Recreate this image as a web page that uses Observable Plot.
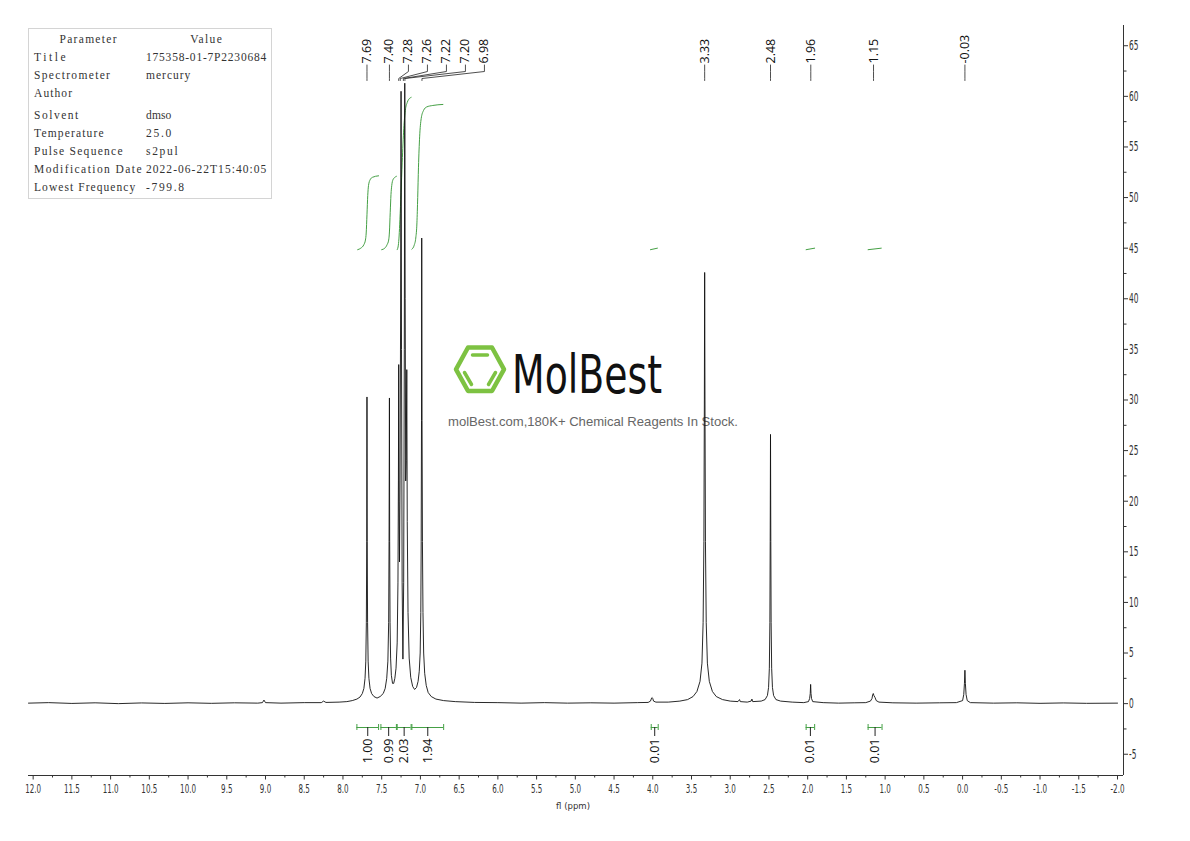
<!DOCTYPE html>
<html><head><meta charset="utf-8">
<script src="https://cdn.jsdelivr.net/npm/d3@7"></script>
<script src="https://cdn.jsdelivr.net/npm/@observablehq/plot@0.6"></script>
<style>
html,body{margin:0;padding:0;background:#fff;}
#wrap{position:relative;width:1190px;height:841px;overflow:hidden;background:#fff;}
#wm,#chart,#params{position:absolute;left:0;top:0;}
</style></head><body>
<div id="wrap">
<svg id="wm" width="1190" height="841">
  <g fill="none" stroke="#7dc242" stroke-linejoin="round" stroke-linecap="round">
    <polygon points="456,369.3 468,347.5 492,347.5 504,369.3 492,391 468,391" stroke-width="4.5"/>
    <line x1="472.5" y1="355" x2="487.5" y2="355" stroke-width="3.5"/>
    <line x1="464.5" y1="372.5" x2="471.5" y2="384.5" stroke-width="3.5"/>
    <line x1="495.5" y1="372.5" x2="488.5" y2="384.5" stroke-width="3.5"/>
  </g>
  <text x="512" y="393" font-family="'DejaVu Sans Condensed','DejaVu Sans',sans-serif" font-size="53" fill="#111" textLength="150" lengthAdjust="spacingAndGlyphs">MolBest</text>
  <text x="448" y="425.5" font-family="'Liberation Sans',Arial,sans-serif" font-size="13" fill="#666" textLength="290" lengthAdjust="spacingAndGlyphs">molBest.com,180K+ Chemical Reagents In Stock.</text>
</svg>
<div id="chart"></div>
<svg id="params" width="300" height="210"></svg>
</div>
<script>
// ---------- data ----------
const paramHeader = ["Parameter", "Value"];
const paramNames = ["Title","Spectrometer","Author","Solvent","Temperature","Pulse Sequence","Modification Date","Lowest Frequency"];
const paramValues = ["175358-01-7P2230684","mercury","","dmso","25.0","s2pul","2022-06-22T15:40:05","-799.8"];

const xMajorTicks = d3.range(-2.0, 12.001, 0.5);
const xMinorTicks = d3.range(-1.75, 12.0, 0.5);
const yMajorTicks = d3.range(-5, 65.001, 5);
const yMinorTicks = d3.range(-2.5, 65, 5);

const peakLabels = [7.69, 7.40, 7.28, 7.26, 7.22, 7.20, 6.98, 3.33, 2.48, 1.96, 1.15, -0.03];

const intStart  = [7.82, 7.51, 7.30, 7.11, 4.02, 2.02, 1.22];
const intEnd    = [7.54, 7.31, 7.12, 6.70, 3.93, 1.91, 1.04];
const intValues = [1.00, 0.99, 2.03, 1.94, 0.01, 0.01, 0.01];

// spectrum: [ppm, intensity]
const spectrum = [
[12.06,0.05],[11.8,0.1],[11.5,0.02],[11.2,0.08],[10.9,0.0],[10.6,0.07],[10.3,0.02],[10.0,0.08],[9.7,0.03],[9.4,0.08],[9.1,0.05],[9.04,0.1],[9.02,0.35],[9.0,0.1],[8.8,0.05],[8.5,0.1],[8.28,0.1],[8.25,0.25],[8.22,0.12],[8.05,0.15],[7.95,0.2],[7.88,0.3],
[7.82,0.45],[7.78,0.65],[7.75,1.0],[7.73,1.5],[7.715,2.5],[7.705,4.2],[7.698,8],[7.693,16],[7.69,30.3],[7.687,16],[7.682,8],[7.675,4.2],[7.665,2.5],[7.65,1.5],[7.63,1.0],[7.6,0.7],[7.56,0.55],
[7.52,0.7],[7.48,1.0],[7.455,1.5],[7.435,2.5],[7.42,4.2],[7.41,8],[7.405,16],[7.40,30.2],[7.397,16],[7.392,8],[7.385,4.5],[7.375,2.8],[7.36,2.0],[7.345,2.0],
[7.33,2.5],[7.315,3.5],[7.30,6],[7.29,12],[7.284,22],[7.28,33.5],[7.276,20],[7.27,14],[7.263,22],[7.256,38],[7.25,60.5],[7.244,35],[7.236,12],[7.226,4.4],[7.216,12],[7.208,35],[7.202,61.3],[7.197,40],[7.19,22],[7.183,24],[7.176,33],[7.17,18],[7.16,9],[7.145,4.5],[7.125,2.6],[7.1,1.7],[7.075,1.4],[7.05,1.6],
[7.03,2.2],[7.015,3.2],[7.003,5],[6.995,9],[6.99,16],[6.986,28],[6.983,46],[6.979,28],[6.974,16],[6.967,9],[6.958,5],[6.945,3],[6.925,1.8],[6.9,1.1],[6.86,0.7],[6.8,0.45],[6.7,0.3],[6.55,0.2],[6.3,0.12],
[6.0,0.1],[5.7,0.05],[5.4,0.1],[5.1,0.05],[4.8,0.08],[4.5,0.05],[4.2,0.1],[4.06,0.12],[4.03,0.25],[4.015,0.55],[4.008,0.6],[4.0,0.5],[3.99,0.25],[3.96,0.15],[3.8,0.15],[3.65,0.25],[3.55,0.4],[3.48,0.7],[3.43,1.2],[3.39,2.2],[3.365,4],[3.35,8],[3.34,16],[3.334,30],[3.33,42.6],[3.326,30],[3.32,16],[3.31,8],[3.295,4],[3.27,2.2],[3.23,1.2],[3.18,0.7],[3.1,0.4],[3.0,0.25],[2.9,0.2],[2.88,0.4],[2.87,0.2],[2.78,0.15],[2.73,0.25],[2.72,0.45],[2.71,0.2],[2.6,0.25],[2.55,0.4],[2.52,0.8],[2.505,1.6],[2.495,3.5],[2.488,8],[2.484,16],[2.48,26.6],[2.476,16],[2.472,8],[2.465,3.5],[2.455,1.6],[2.44,0.8],[2.41,0.4],[2.35,0.25],[2.2,0.15],[2.05,0.1],
[1.99,0.2],[1.975,0.5],[1.967,1.0],[1.962,1.9],[1.957,1.0],[1.95,0.5],[1.935,0.2],[1.8,0.1],[1.6,0.05],[1.4,0.08],[1.25,0.1],
[1.19,0.25],[1.17,0.5],[1.16,0.9],[1.153,1.0],[1.145,0.8],[1.13,0.6],[1.115,0.3],[1.08,0.15],[0.9,0.08],[0.6,0.05],[0.3,0.08],[0.08,0.1],
[0.0,0.3],[-0.015,0.9],[-0.024,2.0],[-0.03,3.3],[-0.036,2.0],[-0.045,0.9],[-0.06,0.3],[-0.1,0.1],[-0.4,0.05],[-0.7,0.08],[-1.0,0.03],[-1.3,0.07],[-1.6,0.03],[-2.0,0.05]
];

// integral curves: [region, ppm, value]
const integralCurves = [
[0,7.81,44.85],[0,7.77,45.0],[0,7.73,45.35],[0,7.71,45.8],[0,7.70,46.5],[0,7.69,48.3],[0,7.68,50.2],[0,7.67,51.2],[0,7.65,51.75],[0,7.62,52.0],[0,7.54,52.15],
[1,7.50,44.85],[1,7.46,45.0],[1,7.43,45.35],[1,7.41,45.8],[1,7.40,46.6],[1,7.39,48.5],[1,7.38,50.3],[1,7.37,51.2],[1,7.355,51.75],[1,7.33,52.0],[1,7.31,52.1],
[2,7.30,44.85],[2,7.285,45.3],[2,7.275,46.2],[2,7.265,47.8],[2,7.25,50.5],[2,7.235,53.5],[2,7.215,56.8],[2,7.195,58.6],[2,7.17,59.4],[2,7.14,59.8],[2,7.12,59.9],
[3,7.11,44.9],[3,7.08,45.3],[3,7.06,46.0],[3,7.045,47.5],[3,7.035,50],[3,7.025,53],[3,7.01,56],[3,6.99,57.8],[3,6.96,58.6],[3,6.92,58.95],[3,6.84,59.1],[3,6.71,59.2],
[4,4.03,44.85],[4,3.94,45.0],
[5,2.02,44.85],[5,1.91,45.0],
[6,1.22,44.85],[6,1.05,45.0]
];

// ---------- layout ----------
const W = 1190, H = 841, mL = 28, mR = 67, mT = 25, mB = 66, insR = 6;
const xDomain = [12.06, -2.0];
const yDomain = [-7.1, 67.0];
const yBottomPx = H - mB, yTopPx = mT;
const yAt = px => yDomain[0] + (yBottomPx - px) * (yDomain[1] - yDomain[0]) / (yBottomPx - yTopPx);
const pxPerPpm = (W - mR - insR - mL) / (xDomain[0] - xDomain[1]);
const green = "#45a045";
const tickFont = "'DejaVu Sans',sans-serif";
const labelFont = "'Open Sans','Noto Sans',sans-serif";

// parameter table (SVG, fixed-pitch serif look)
(function drawTable() {
  const svg = d3.select("#params");
  const pitch = 6.33, fs = 11.5;
  svg.append("rect").attr("x", 28.5).attr("y", 28.5).attr("width", 243).attr("height", 170)
    .attr("fill", "none").attr("stroke", "#d4d4d4");
  const rowCenters = [39, 57, 75, 93, 115, 133, 151, 169, 187];
  const txt = (s, x, c, anchor) => {
    if (!s) return;
    svg.append("text").attr("x", x).attr("y", c + 4).attr("text-anchor", anchor)
      .attr("font-family", "'Liberation Serif','DejaVu Serif',serif").attr("font-size", fs)
      .attr("fill", "#333").attr("textLength", s.length * pitch).attr("lengthAdjust", "spacing").text(s);
  };
  txt(paramHeader[0], 88, rowCenters[0], "middle");
  txt(paramHeader[1], 206, rowCenters[0], "middle");
  paramNames.forEach((n, i) => { txt(n, 34, rowCenters[i+1], "start"); txt(paramValues[i], 146, rowCenters[i+1], "start"); });
})();

// peak label spreading (greedy, in ppm)
const gapPpm = 19 / pxPerPpm;
let prev = Infinity;
const labelPos = peakLabels.map(p => { const v = Math.min(p, prev - gapPpm); prev = v; return v; });
const labelData = peakLabels.map((p, i) => ({peak: p, pos: labelPos[i], text: p.toFixed(2)}));
const leaders = labelData.flatMap((d, i) => [
  {i, x: d.pos, y: yAt(64.5)},
  {i, x: d.pos, y: yAt(71)},
  {i, x: d.peak, y: yAt(78)},
  {i, x: d.peak, y: yAt(80)}
]);

const regions = intStart.map((s, i) => ({s, e: intEnd[i], v: intValues[i], m: (s + intEnd[i]) / 2}));
const bounds = regions.flatMap(r => [r.s, r.e]);

const specData = spectrum.map(([x, y]) => ({x, y}));
const intData = integralCurves.map(([r, x, y]) => ({r, x, y}));

const chart = Plot.plot({
  width: W, height: H,
  marginLeft: mL, marginRight: mR, marginTop: mT, marginBottom: mB,
  insetRight: insR,
  x: {domain: xDomain, axis: null},
  y: {domain: yDomain, axis: null},
  style: {background: "transparent", overflow: "visible", fontFamily: tickFont},
  marks: [
    Plot.ruleY([yDomain[0]], {stroke: "#333", strokeWidth: 1}),
    Plot.ruleX([xDomain[1]], {dx: insR, stroke: "#333", strokeWidth: 1}),
    Plot.axisX(xMajorTicks, {anchor: "bottom", tickSize: 4.5, tickPadding: 4, tickFormat: d => d.toFixed(1), fontSize: 13, label: null, stroke: "#333", fill: "#333"}),
    Plot.axisX(xMinorTicks, {anchor: "bottom", tickSize: 2.5, tickFormat: () => "", label: null, stroke: "#333"}),
    Plot.axisY(yMajorTicks, {anchor: "right", tickSize: 4, tickPadding: 1.5, tickFormat: d => String(d), fontSize: 13.5, label: null, stroke: "#333", fill: "#333"}),
    Plot.axisY(yMinorTicks, {anchor: "right", tickSize: 2.5, tickFormat: () => "", label: null, stroke: "#333"}),
    Plot.text(["fl (ppm)"], {frameAnchor: "bottom", dx: -3, dy: 33, text: d => d, fontSize: 9.5, fill: "#333", fontFamily: "'Liberation Sans Narrow','DejaVu Sans Condensed',sans-serif"}),
    // integral curves
    Plot.line(intData, {x: "x", y: "y", z: "r", stroke: green, strokeWidth: 1, curve: "monotone-x"}),
    // spectrum
    Plot.line(specData, {x: "x", y: "y", stroke: "#111", strokeWidth: 0.9}),
    // integration bars
    Plot.ruleY(regions, {x1: "s", x2: "e", y: yAt(727), stroke: green, strokeWidth: 1}),
    Plot.ruleX(bounds, {x: d => d, y1: yAt(724), y2: yAt(730), stroke: green, strokeWidth: 1}),
    Plot.ruleX(regions, {x: "m", y1: yAt(727), y2: yAt(736), stroke: "#222", strokeWidth: 1}),
    Plot.text(regions, {x: "m", y: yAt(738), text: d => d.v.toFixed(2), rotate: -90, textAnchor: "end", fontSize: 12.5, fontFamily: labelFont, fill: "#111"}),
    // peak labels
    Plot.line(leaders, {x: "x", y: "y", z: "i", stroke: "#222", strokeWidth: 0.8}),
    Plot.text(labelData, {x: "pos", y: yAt(63), text: "text", rotate: -90, textAnchor: "start", fontSize: 12.5, fontFamily: labelFont, fill: "#111"})
  ]
});

// condense the axis tick labels (narrow display face in the original)
d3.select(chart).selectAll('g[aria-label="x-axis tick label"] text, g[aria-label="y-axis tick label"] text')
  .each(function() {
    let t = this.getAttribute("transform") || "";
    const x = this.getAttribute("x");
    if (x != null && !isNaN(+x)) {
      t = `translate(${+x},0) ` + t;
      this.removeAttribute("x");
    }
    this.setAttribute("transform", t + " scale(0.55,1)");
  });
document.getElementById("chart").appendChild(chart);
</script>
</body></html>
